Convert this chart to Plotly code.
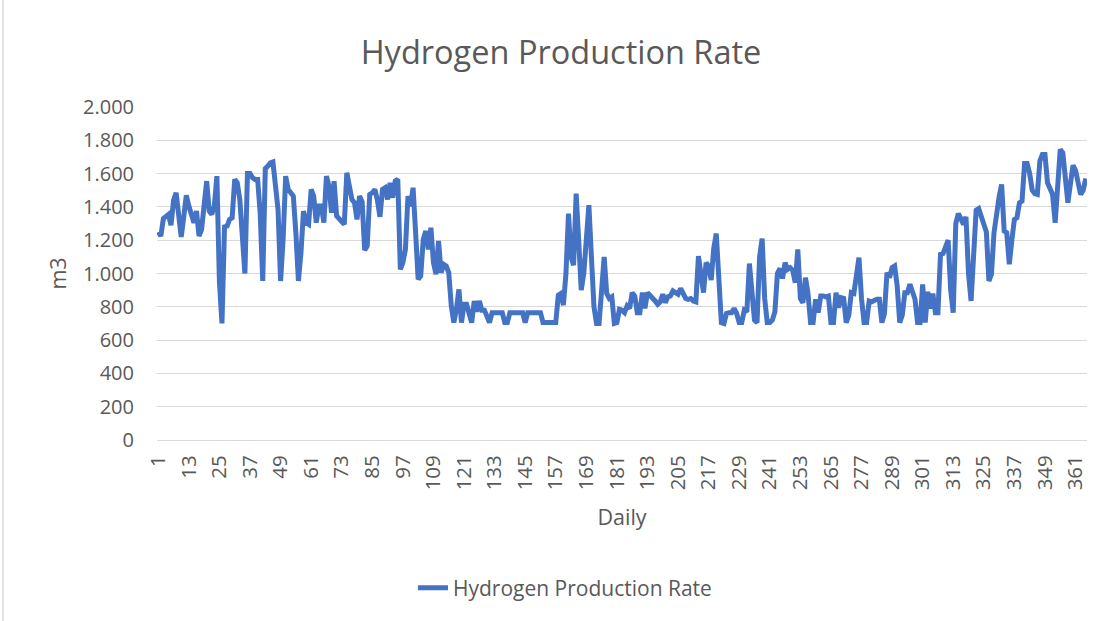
import plotly.graph_objects as go

# Daily hydrogen production (m3), day 1 .. 365
days = list(range(1, 366))
hydrogen_rate = [
    1250, 1225, 1330, 1340, 1355, 1290, 1440, 1485, 1345, 1220,
    1340, 1470, 1405, 1365, 1305, 1375, 1225, 1265, 1445, 1555,
    1375, 1355, 1405, 1585, 950, 700, 1280, 1285, 1325, 1335,
    1565, 1545, 1445, 1250, 1000, 1600, 1600, 1575, 1565, 1565,
    1360, 955, 1630, 1645, 1665, 1670, 1485, 1385, 955, 1205,
    1585, 1505, 1485, 1465, 1245, 955, 1125, 1375, 1305, 1295,
    1505, 1465, 1305, 1405, 1405, 1305, 1585, 1525, 1365, 1555,
    1345, 1325, 1305, 1295, 1605, 1525, 1445, 1425, 1325, 1465,
    1430, 1140, 1165, 1475, 1485, 1505, 1440, 1340, 1505, 1515,
    1445, 1545, 1455, 1555, 1565, 1025, 1065, 1145, 1465, 1405,
    1515, 1245, 965, 985, 1205, 1255, 1145, 1275, 1065, 995,
    1195, 1005, 1055, 1045, 1005, 805, 705, 785, 905, 705,
    815, 815, 760, 705, 835, 770, 835, 780, 780, 730,
    705, 765, 765, 765, 765, 765, 705, 705, 765, 765,
    765, 765, 765, 765, 705, 765, 765, 765, 765, 765,
    765, 705, 705, 705, 705, 705, 705, 870, 880, 810,
    1000, 1360, 1100, 1050, 1480, 1200, 900, 1000, 1200, 1410,
    1100, 800, 700, 700, 900, 1100, 880, 850, 860, 700,
    705, 785, 780, 765, 805, 790, 885, 865, 765, 765,
    885, 790, 885, 870, 860, 835, 815, 830, 875, 825,
    860, 865, 895, 880, 875, 910, 870, 850, 845, 850,
    835, 830, 1105, 1005, 885, 1065, 1045, 960, 1150, 1240,
    900, 705, 700, 760, 765, 765, 790, 760, 705, 705,
    780, 770, 1060, 900, 720, 705, 1100, 1210, 850, 705,
    705, 720, 770, 1000, 1030, 970, 1065, 1025, 1035, 1020,
    945, 1145, 850, 825, 975, 880, 705, 705, 845, 765,
    865, 865, 860, 865, 705, 705, 885, 795, 855, 850,
    705, 750, 885, 880, 1000, 1095, 850, 705, 705, 835,
    830, 840, 845, 845, 705, 760, 1005, 975, 1035, 1045,
    925, 705, 750, 885, 885, 935, 890, 845, 705, 705,
    935, 705, 890, 790, 880, 765, 765, 1115, 1120, 1165,
    1200, 900, 765, 1300, 1360, 1330, 1295, 1340, 1000, 835,
    1150, 1380, 1390, 1340, 1300, 1250, 955, 995, 1245, 1385,
    1460, 1535, 1255, 1245, 1055, 1200, 1325, 1335, 1425, 1435,
    1660, 1660, 1600, 1500, 1480, 1475, 1675, 1715, 1715, 1545,
    1505, 1475, 1305, 1525, 1745, 1725, 1545, 1425, 1540, 1650,
    1620, 1560, 1475, 1500, 1570,
]
x_ticks = list(range(1, 366, 12))
y_ticks = list(range(0, 2001, 200))

TEXT = "#595959"
GRID = "#d9d9d9"
FONT = "Open Sans"

fig = go.Figure(
    go.Scatter(
        x=days,
        y=hydrogen_rate,
        mode="lines",
        name="Hydrogen Production Rate",
        line=dict(color="#4472C4", width=5),
    )
)

fig.update_layout(
    width=1110,
    height=621,
    margin=dict(l=157, r=23, t=107, b=181),
    paper_bgcolor="white",
    plot_bgcolor="white",
    separators=",.",
    font=dict(family=FONT, color=TEXT, size=20),
    title=dict(
        text="Hydrogen Production Rate",
        x=(561) / 1110,
        xref="container",
        xanchor="center",
        y=1 - 53 / 621,
        yref="container",
        yanchor="middle",
        font=dict(family=FONT, size=32.5, color=TEXT),
    ),
    showlegend=True,
    legend=dict(
        orientation="h",
        x=(565 - 157) / 930,
        xanchor="center",
        y=(440 - 588) / 333,
        yanchor="middle",
        font=dict(family=FONT, size=21, color=TEXT),
    ),
    xaxis=dict(
        range=[0.5, 365.5],
        tickmode="array",
        tickvals=x_ticks,
        ticktext=[str(v) for v in x_ticks],
        tickangle=-90,
        showgrid=False,
        zeroline=False,
        showline=True,
        linecolor=GRID,
        linewidth=1,
        ticks="",
        ticklabelstandoff=6,
        tickfont=dict(size=20.5, color=TEXT),
        title=dict(text="Daily", standoff=20, font=dict(size=21.5, color=TEXT)),
    ),
    yaxis=dict(
        range=[0, 2000],
        tickmode="array",
        tickvals=y_ticks,
        tickformat=",d",
        separatethousands=True,
        showgrid=True,
        gridcolor=GRID,
        gridwidth=1,
        zeroline=False,
        showline=False,
        ticks="",
        ticklabelstandoff=22,
        tickfont=dict(size=20, color=TEXT),
        title=dict(text="m3", standoff=10, font=dict(size=21.5, color=TEXT)),
    ),
    shapes=[
        dict(
            type="line",
            xref="paper",
            yref="paper",
            x0=(3 - 157) / 930,
            x1=(3 - 157) / 930,
            y0=(440 - 625) / 333,
            y1=(440 + 5) / 333,
            line=dict(color=GRID, width=1.5),
        )
    ],
)

fig.write_html("out.html")
